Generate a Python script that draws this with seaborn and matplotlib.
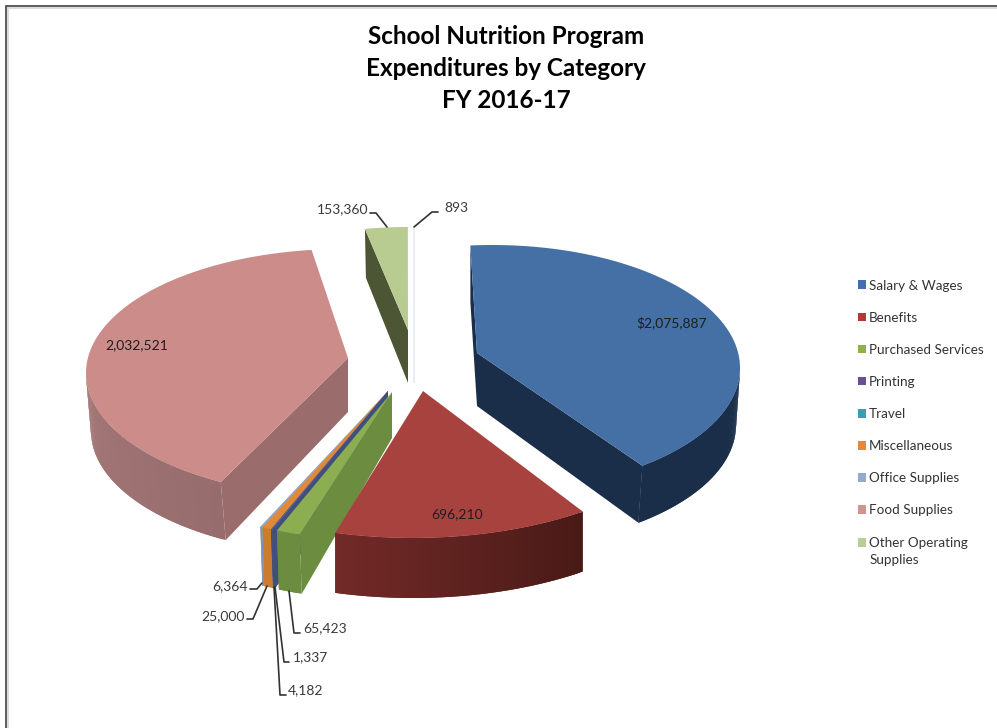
import numpy as np
import matplotlib
matplotlib.use("Agg")
import matplotlib.pyplot as plt
from matplotlib.patches import Patch, Polygon, Rectangle
from matplotlib.legend_handler import HandlerPatch
from matplotlib.colors import to_rgb
import seaborn as sns

# ---- data ----
categories = ["Salary & Wages", "Benefits", "Purchased Services", "Printing", "Travel",
              "Miscellaneous", "Office Supplies", "Food Supplies", "Other Operating\nSupplies"]
values = [2075887, 696210, 65423, 1337, 4182, 25000, 6364, 2032521, 153360, 893]
value_labels = ["$2,075,887", "696,210", "65,423", "1,337", "4,182", "25,000", "6,364",
                "2,032,521", "153,360", "893"]
title_lines = ["School Nutrition Program", "Expenditures by Category", "FY 2016-17"]

# ---- style ----
legend_colors = ["#3F70B0", "#B03A38", "#8FB04A", "#6B4F96", "#3A9DB5", "#E8873A", "#93A9CF", "#D19392", "#B9CD96"]
top_colors = ["#4470A5", "#A8423F", "#8CAE50", "#4F5F9A", "#4F5F9A", "#E08A38", "#86A2CC", "#CC8C8A", "#B8CC92", "#E9EDF4"]
face_colors = ["#1A2E4A", "#5A211E", "#6C8C40", "#3F4F80", "#3F4F80", "#CC7A2C", "#7A94BE", "#9A6C6C", "#4C5634", "#E9EDF4"]
rim_left = ["#1A2E4A", "#722A28", "#6C8C40", "#3F4F80", "#3F4F80", "#CC7A2C", "#7A94BE", "#A67878", "#4C5634", "#E9EDF4"]
rim_right = ["#1A2E4A", "#481A16", "#6C8C40", "#3F4F80", "#3F4F80", "#CC7A2C", "#7A94BE", "#966C6C", "#4C5634", "#E9EDF4"]

# per-slice 3D projection: rim centre, radii, rotation, apex, extrusion
rim_cx = [492, 413, 392, 388, 388, 388, 388, 343, 408, 414]
rim_cy = [368, 388, 392, 391, 391, 391, 391, 373, 330, 330]
rim_rx = [248, 300, 300, 300, 300, 300, 300, 257, 227, 227]
rim_ry = [123, 150, 150, 150, 150, 150, 150, 124, 103, 103]
apex_x = [477, 423, 392, 388, 388, 388, 388, 348, 408, 414]
apex_y = [353, 391, 392, 391, 391, 391, 391, 358, 330, 330]
shift = [-5, -2.15, 0.73, 0.73, 0.73, 0.73, 0.73, 3.95, 0.03, 0.02]
rim_dx = [-4, 0, 2, 2, 2, 2, 2, 5, 1, 0]
rim_dy = [57, 60, 59, 59, 59, 59, 59, 58, 49, 53]
apex_dy = [53, 60, 46, 46, 46, 46, 46, 54, 53, 53]
outline_lw = [0, 0, 0, 0, 0, 0, 0, 0, 0, 1.0]
draw_order = [9, 8, 7, 0, 6, 5, 4, 3, 2, 1]
# which radial faces show: (face at the slice's start angle, face at its end angle)
start_face = [True, False, True, True, True, True, True, True, True, True]
end_face = [True, False, False, False, False, False, False, False, False, False]

# data-label placement (text centre / leader polyline)
inside_pos = {0: (672, 323), 1: (457, 514), 7: (137, 345)}
outside = {
    8: (343, 209, [(370, 213), (376, 213), (387, 227)]),
    9: (456, 208, [(438, 212), (432, 212), (414, 227)]),
    6: (230, 586, [(250, 589), (257, 589), (262, 583)]),
    5: (223, 616, [(247, 619), (253, 619), (267, 586)]),
    2: (325, 628, [(300, 633), (294, 633), (289, 591)]),
    3: (310, 657, [(289, 662), (284, 662), (275, 587)]),
    4: (306, 690, [(286, 695), (280, 695), (274, 587)]),
}

sns.set_theme(style="white")
plt.rcParams["font.family"] = ["Lato", "DejaVu Sans"]
palette = sns.color_palette(legend_colors)

fig = plt.figure(figsize=(9.97, 7.28), dpi=100, facecolor="white")
ax = fig.add_axes([0, 0, 1, 1])
ax.set_xlim(0, 997)
ax.set_ylim(728, 0)
ax.axis("off")
sns.despine(ax=ax, left=True, bottom=True)

# frame of the source picture, with its soft inner shadow
ax.plot([8, 8, 997], [728, 8, 8], color="#DDDDDD", lw=1.5, solid_joinstyle="miter", zorder=1)
ax.plot([6.3, 6.3, 997], [728, 6.3, 6.3], color="#505050", lw=1.3, solid_joinstyle="miter", zorder=1.1)

fractions = np.array(values, dtype=float) / np.sum(values)
sweeps = fractions * 360.0
starts = np.concatenate([[0.0], np.cumsum(sweeps)[:-1]]) + np.array(shift)


def rim(i, a):
    a = np.radians(a)
    return rim_cx[i] + rim_rx[i] * np.sin(a), rim_cy[i] - rim_ry[i] * np.cos(a)


def poly(pts, color, z, lw=0):
    ax.add_patch(Polygon(pts, closed=True, facecolor=color, edgecolor=color if lw else "none", lw=lw, zorder=z))


for z, i in enumerate(draw_order):
    zb = 2 + z * 0.1
    a0, a1 = starts[i], starts[i] + sweeps[i]
    apex = (apex_x[i], apex_y[i])
    apex_low = (apex_x[i], apex_y[i] + apex_dy[i])
    # radial side faces
    if end_face[i]:
        x, y = rim(i, a1)
        poly([apex, (x, y), (x + rim_dx[i], y + rim_dy[i]), apex_low], face_colors[i], zb, outline_lw[i])
    if start_face[i]:
        x, y = rim(i, a0)
        # faces on the right half of the pie stay straight under their rim
        dx = 0 if i == 0 else rim_dx[i]
        poly([apex, (x, y), (x + dx, y + rim_dy[i]), apex_low], face_colors[i], zb, outline_lw[i])
    # outer rim, shaded left to right; neighbouring quads overlap to hide seams
    lo, hi = max(a0, 90), min(a1, 270)
    if hi > lo:
        n = max(2, int((hi - lo) * 1.5))
        edges = np.linspace(lo, hi, n + 1)
        c_r, c_l = np.array(to_rgb(rim_right[i])), np.array(to_rgb(rim_left[i]))
        for k in range(n):
            t = (k + 0.5) / n
            x0, y0 = rim(i, edges[k])
            x1, y1 = rim(i, edges[min(k + 2, n)])
            poly([(x0, y0), (x1, y1), (x1 + rim_dx[i], y1 + rim_dy[i]), (x0 + rim_dx[i], y0 + rim_dy[i])],
                 tuple(c_r * (1 - t) + c_l * t), zb + 0.01 + k * 1e-5)
    # top surface
    arc = np.linspace(a0, a1, max(2, int(sweeps[i] * 2) + 2))
    pts = [apex] + [rim(i, a) for a in arc]
    poly(pts, top_colors[i], zb + 0.05, outline_lw[i])

# data labels
for i, (x, y) in inside_pos.items():
    ax.text(x, y, value_labels[i], ha="center", va="center", fontsize=10, color="#1E1E1E", zorder=6)
for i, (x, y, line) in outside.items():
    ax.text(x, y, value_labels[i], ha="center", va="center", fontsize=10, color="#3A3A3A", zorder=6)
    ax.plot(*zip(*line), color="#333333", lw=1.2, zorder=6)

# title
for line, y in zip(title_lines, (37, 69, 101)):
    ax.text(506, y, line, ha="center", va="center", fontsize=17.5, fontweight="bold", color="black", zorder=6)


# legend: the swatch of the two-line entry sits beside its first line
def first_line_swatch(legend, orig_handle, xdescent, ydescent, width, height, fontsize):
    return Rectangle((-xdescent, -ydescent + 6.6), width, height)


handles = [Patch(facecolor=c, edgecolor="none") for c in palette]
legend = ax.legend(handles, categories, loc="upper left", bbox_to_anchor=(858 / 997, 1 - 279.5 / 728),
                   bbox_transform=fig.transFigure, frameon=False, fontsize=9.7, labelcolor="#333333",
                   handlelength=0.6, handleheight=0.6, handletextpad=0.22, labelspacing=1.495,
                   borderpad=0, borderaxespad=0, ncol=1,
                   handler_map={handles[-1]: HandlerPatch(patch_func=first_line_swatch)})
for t in legend.get_texts():
    t.set_linespacing(1.55)

fig.savefig("out.png", dpi=100)
